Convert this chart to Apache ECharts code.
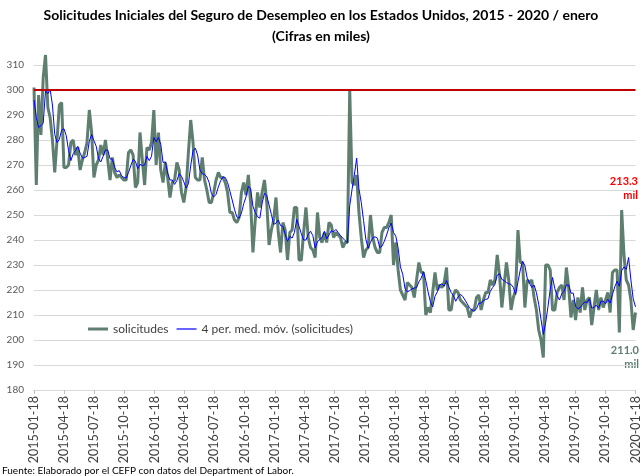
<!DOCTYPE html>
<html><head><meta charset="utf-8">
<script src="https://cdn.jsdelivr.net/npm/echarts@6/dist/echarts.min.js"></script>
<style>html,body{margin:0;padding:0;background:#fff}#c{width:642px;height:476px}</style>
</head><body><div id="c"></div>
<script>
// Weekly initial claims (thousands), week ending Saturday, first week 2015-01-17
const firstWeek = '2015-01-17';
const claims = [
  301,262,298,282,305,314,293,289,280,267,
  280,294,295,269,269,270,279,280,274,277,
  268,272,275,279,292,283,265,270,272,278,
  274,280,272,264,273,267,265,266,265,264,
  264,275,276,274,261,263,283,272,262,277,
  276,279,292,270,283,268,263,271,265,257,
  263,264,271,268,259,255,261,275,288,279,
  265,264,264,273,264,260,255,255,259,264,
  267,265,265,263,259,251,251,248,247,249,
  259,263,258,266,255,235,248,259,253,259,
  264,255,238,244,248,257,243,235,247,244,
  232,243,244,253,253,232,232,243,253,241,
  237,236,233,251,241,239,243,239,247,246,
  241,243,242,241,237,239,239,300,263,262,
  266,251,241,233,236,237,250,241,237,235,
  235,243,245,245,247,250,230,239,228,220,
  218,216,223,222,221,217,224,231,227,227,
  210,213,211,219,227,220,222,221,223,229,
  212,212,218,220,219,216,215,214,213,209,
  212,212,217,218,212,216,219,219,224,222,
  224,234,226,213,222,231,224,212,217,220,
  244,231,231,213,224,223,224,217,212,204,
  200,193,230,230,228,212,212,219,221,222,
  216,229,221,209,216,208,217,211,221,212,
  216,217,206,213,220,212,217,213,216,219,
  211,227,228,228,203,252,234,224,222,216,
  204,211
];
// three weeks before the first plotted week (feed the 4-period moving average trendline)
const priorClaims = [290, 314, 279];
const tickLabels = [
  '2015-01-18','2015-04-18','2015-07-18','2015-10-18',
  '2016-01-18','2016-04-18','2016-07-18','2016-10-18',
  '2017-01-18','2017-04-18','2017-07-18','2017-10-18',
  '2018-01-18','2018-04-18','2018-07-18','2018-10-18',
  '2019-01-18','2019-04-18','2019-07-18','2019-10-18',
  '2020-01-18'
];
const thresholdLevel = 300;
const maPeriod = 4;

function dayNum(s){ const p = s.split('-').map(Number); return Date.UTC(p[0], p[1]-1, p[2]) / 86400000; }
const base = dayNum(tickLabels[0]);
const tickDays = tickLabels.map(s => dayNum(s) - base);
const firstDay = dayNum(firstWeek) - base;
const weekDays = claims.map((_, i) => firstDay + 7 * i);

// Excel-style moving-average trendline of the claims series
const full = priorClaims.concat(claims);
const movAvg = claims.map((_, i) => {
  let s = 0; for (let j = 0; j < maPeriod; j++) s += full[i + priorClaims.length - j];
  return s / maPeriod;
});

const claimsData = claims.map((v, i) => [weekDays[i], v]);
const maData = movAvg.map((v, i) => [weekDays[i], v]);
const lastMA = movAvg[movAvg.length - 1].toFixed(1);
const lastClaims = claims[claims.length - 1].toFixed(1);

const FONT = 'Lato';
const GREEN = '#5E7E70';
const chart = echarts.init(document.getElementById('c'), null, {renderer: 'canvas'});
chart.setOption({
  animation: false,
  backgroundColor: '#fff',
  textStyle: {fontFamily: FONT},
  title: [
    {text: 'Solicitudes Iniciales del Seguro de Desempleo en los Estados Unidos, 2015 - 2020 / enero',
     left: 'center', top: 8, padding: 0,
     textStyle: {fontFamily: FONT, fontSize: 14, fontWeight: 'bold', color: '#000'}},
    {text: '(Cifras en miles)', left: 'center', top: 29, padding: 0,
     textStyle: {fontFamily: FONT, fontSize: 14, fontWeight: 'bold', color: '#000'}}
  ],
  grid: {left: 34, right: 6, top: 65, bottom: 86, containLabel: false},
  legend: {
    left: 88, top: 323, itemWidth: 20, itemHeight: 14, itemGap: 8, padding: 0,
    symbolKeepAspect: true,
    textStyle: {fontFamily: FONT, fontSize: 12, color: '#404040'},
    data: [
      {name: 'solicitudes', icon: 'path://M0,0L20,0L20,3L0,3Z', itemStyle: {color: GREEN}},
      {name: '4 per. med. móv. (solicitudes)', icon: 'path://M0,0L20,0L20,1.2L0,1.2Z', itemStyle: {color: '#0000FF'}}
    ]
  },
  xAxis: {
    type: 'value', min: firstDay, max: tickDays[tickDays.length - 1],
    axisLine: {show: true, lineStyle: {color: '#D9D9D9', width: 1}},
    axisTick: {show: true, customValues: tickDays, length: 4, lineStyle: {color: '#BFBFBF'}},
    axisLabel: {
      customValues: tickDays, rotate: 90, margin: 6, fontSize: 12.5, color: '#404040', fontFamily: FONT,
      formatter: v => { const i = tickDays.indexOf(Math.round(v)); return i >= 0 ? tickLabels[i] : ''; }
    },
    splitLine: {show: false}
  },
  yAxis: {
    type: 'value', min: 180, max: 310, interval: 10,
    axisLine: {show: false}, axisTick: {show: false},
    axisLabel: {fontSize: 10, color: '#595959', margin: 10, fontFamily: FONT},
    splitLine: {lineStyle: {color: '#D9D9D9', width: 1}}
  },
  series: [
    {
      name: 'solicitudes', type: 'line', data: claimsData, symbol: 'none', clip: false,
      lineStyle: {color: GREEN, width: 3}, itemStyle: {color: GREEN}, z: 2,
      markLine: {
        silent: true, symbol: ['none', 'none'], label: {show: false},
        lineStyle: {color: '#C00000', width: 2, type: 'solid'},
        data: [{yAxis: thresholdLevel}]
      }
    },
    {
      name: '4 per. med. móv. (solicitudes)', type: 'line', data: maData, symbol: 'none',
      lineStyle: {color: '#0000FF', width: 1}, itemStyle: {color: '#0000FF'}, z: 3
    }
  ],
  graphic: [
    {type: 'text', x: 638, y: 181, style: {text: lastMA, fill: '#FF0000', font: 'bold 11px Lato', align: 'right', verticalAlign: 'middle'}},
    {type: 'text', x: 638, y: 195, style: {text: 'mil', fill: '#FF0000', font: 'bold 11px Lato', align: 'right', verticalAlign: 'middle'}},
    {type: 'text', x: 639, y: 350, style: {text: lastClaims, fill: GREEN, font: 'bold 11px Lato', align: 'right', verticalAlign: 'middle'}},
    {type: 'text', x: 639, y: 364, style: {text: 'mil', fill: GREEN, font: 'bold 11px Lato', align: 'right', verticalAlign: 'middle'}},
    {type: 'text', x: 2, y: 471, style: {text: 'Fuente: Elaborado por el CEFP con datos del Department of Labor.', fill: '#000', font: '10px Lato', align: 'left', verticalAlign: 'middle'}}
  ]
});
</script></body></html>
